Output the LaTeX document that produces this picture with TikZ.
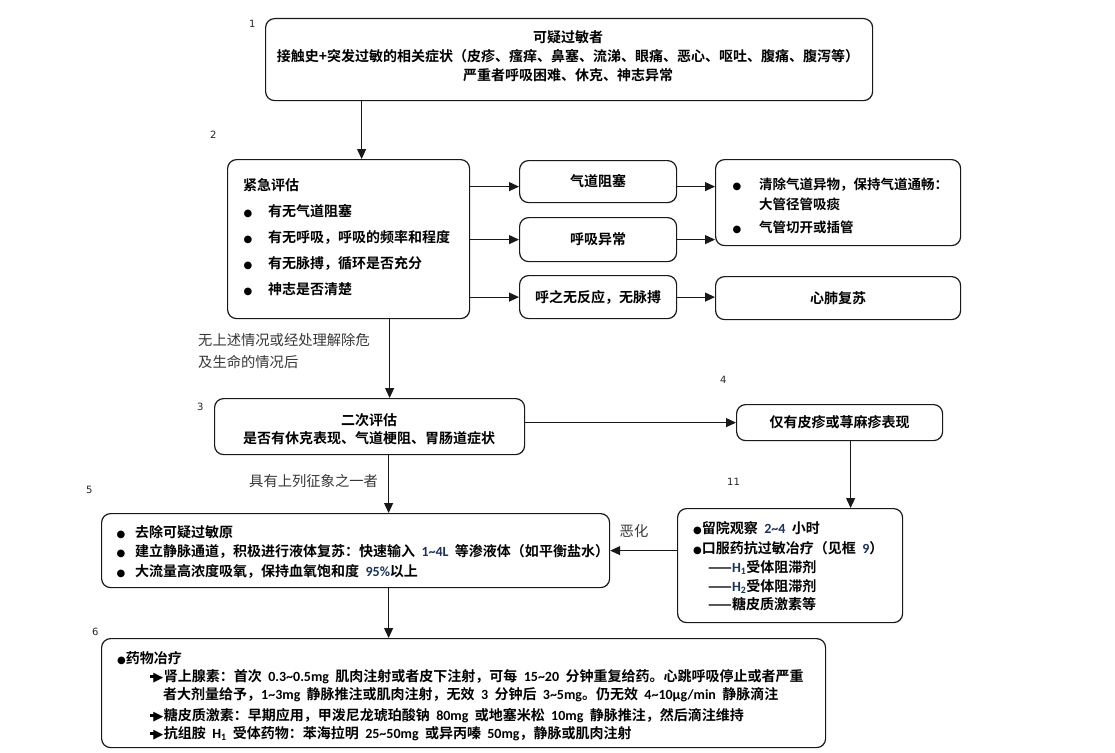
\documentclass[tikz,border=0pt]{standalone}
\usepackage{fontspec}
\setmainfont{Noto Sans CJK SC}[BoldFont={Noto Sans CJK SC Bold},WordSpace=2]
\newfontfamily\dejavu{DejaVu Sans}
\newfontfamily\carl{Carlito}
\usetikzlibrary{arrows.meta}
\definecolor{numblue}{RGB}{25,50,95}
\definecolor{txtgray}{RGB}{55,55,55}
\definecolor{linecol}{RGB}{25,25,25}
\newcommand{\bul}{{\dejavu\fontsize{10}{10}\selectfont ●}}
\newcommand{\rar}{\rule[3.1pt]{5pt}{2.8pt}\kern-1.8pt{\dejavu\fontsize{13}{13}\selectfont ▶}\kern0.5pt}
\newcommand{\nb}[1]{{\carl\color{numblue}#1}}
\newcommand{\nk}[1]{{\carl #1}}
\begin{document}
\begin{tikzpicture}[x=1pt,y=-1pt,
  box/.style={draw=linecol, line width=1.2pt, rounded corners=9pt, inner sep=0pt, anchor=north west, font=\bfseries\fontsize{14}{14}\selectfont},
  arr/.style={draw=linecol, line width=1.1pt, -{Triangle[length=10pt,width=9pt]}},
  bt/.style={inner sep=0pt, anchor=base west, font=\bfseries\fontsize{14}{14}\selectfont},
  bc/.style={bt, anchor=base},
  nt/.style={inner sep=0pt, anchor=base west, font=\fontsize{14.3}{14.3}\selectfont, text=txtgray},
  num/.style={inner sep=0pt, anchor=base west, font=\dejavu\fontsize{10}{10}\selectfont, text=black!85}
]
\useasboundingbox[fill=white] (0,0) rectangle (1115,752);

% ---- boxes ----
\node[box, minimum width=607pt, minimum height=82pt] (b1) at (265,18) {};
\node[box, minimum width=242pt, minimum height=159pt] (b2) at (227,159) {};
\node[box, minimum width=157pt, minimum height=42pt] (qd) at (519,160) {气道阻塞};
\node[box, minimum width=157pt, minimum height=44pt] (hx) at (519,217) {呼吸异常};
\node[box, minimum width=157pt, minimum height=43pt] (hz) at (519,275) {呼之无反应，无脉搏};
\node[box, minimum width=245pt, minimum height=86pt] (r1) at (715,159) {};
\node[box, minimum width=245pt, minimum height=43pt] (r2) at (715,276) {心肺复苏};
\node[box, minimum width=310pt, minimum height=56pt] (b3) at (214,398) {};
\node[box, minimum width=206pt, minimum height=36pt] (b4) at (736,404) {仅有皮疹或荨麻疹表现};
\node[box, minimum width=225pt, minimum height=114pt] (b11) at (677,508) {};
\node[box, minimum width=508pt, minimum height=74pt] (b5) at (101,513) {};
\node[box, minimum width=724pt, minimum height=109pt] (b6) at (101,638) {};

% ---- number labels ----
\node[num] (n1) at (249,28) {1};
\node[num] (n2) at (210,138) {2};
\node[num] (n3) at (197,410) {3};
\node[num] (n4) at (720,383) {4};
\node[num] (n5) at (86,493) {5};
\node[num] (n6) at (92,635) {6};
\node[num] (n11) at (727,485) {11};

% ---- box 1 text ----
\node[bc] (t1a) at (568,42) {可疑过敏者};
\node[bc] (t1b) at (568,61) {接触史+突发过敏的相关症状（皮疹、瘙痒、鼻塞、流涕、眼痛、恶心、呕吐、腹痛、腹泻等）};
\node[bc] (t1c) at (568,80) {严重者呼吸困难、休克、神志异常};

% ---- box 2 text ----
\node[bt] (t2a) at (243,190) {紧急评估};
\node[bc] (d2a) at (248,216) {\bul};
\node[bc] (d2b) at (248,242) {\bul};
\node[bc] (d2c) at (248,268) {\bul};
\node[bc] (d2d) at (248,294) {\bul};
\node[bt] (t2b) at (268,216) {有无气道阻塞};
\node[bt] (t2c) at (268,242) {有无呼吸，呼吸的频率和程度};
\node[bt] (t2d) at (268,268) {有无脉搏，循环是否充分};
\node[bt] (t2e) at (268,294) {神志是否清楚};

% ---- r1 text ----
\node[bc] (dr1) at (737,189) {\bul};
\node[bc] (dr2) at (737,232) {\bul};
\node[bt, font=\bfseries\fontsize{13.5}{13.5}\selectfont] (tr1) at (759,189) {清除气道异物，保持气道通畅：};
\node[bt, font=\bfseries\fontsize{13.5}{13.5}\selectfont] (tr2) at (759,209) {大管径管吸痰};
\node[bt, font=\bfseries\fontsize{13.5}{13.5}\selectfont] (tr3) at (759,232) {气管切开或插管};

% ---- free texts ----
\node[nt] (f1) at (198,345) {无上述情况或经处理解除危};
\node[nt] (f2) at (198,367) {及生命的情况后};
\node[nt] (f3) at (249,486) {具有上列征象之一者};
\node[nt, anchor=base] (f4) at (634,536) {恶化};

% ---- box 3 text ----
\node[bc] (t3a) at (369,425) {二次评估};
\node[bc] (t3b) at (369,443) {是否有休克表现、气道梗阻、胃肠道症状};

% ---- box 11 text ----
\node[bt] (t11a) at (693,533) {\bul 留院观察 \nb{2\textasciitilde4} 小时};
\node[bt] (t11b) at (693,553) {\bul 口服药抗过敏冶疗（见框 \nb{9}）};
\node[bt] (t11c) at (708,572) {——\nb{H\textsubscript{1}}受体阻滞剂};
\node[bt] (t11d) at (708,591) {——\nb{H\textsubscript{2}}受体阻滞剂};
\node[bt] (t11e) at (708,609) {——糖皮质激素等};

% ---- box 5 text ----
\node[bc] (d5a) at (121,537) {\bul};
\node[bc] (d5b) at (121,556) {\bul};
\node[bc] (d5c) at (121,576) {\bul};
\node[bt] (t5a) at (135,537) {去除可疑过敏原};
\node[bt] (t5b) at (135,556) {建立静脉通道，积极进行液体复苏：快速输入 \nb{1\textasciitilde4L} 等渗液体（如平衡盐水）};
\node[bt] (t5c) at (135,576) {大流量高浓度吸氧，保持血氧饱和度 \nb{95\%}以上};

% ---- box 6 text ----
\node[bt] (t6a) at (117,663) {\bul 药物冶疗};
\node[bt] (t6b) at (150,681) {\rar 肾上腺素：首次 \nk{0.3\textasciitilde0.5mg} 肌肉注射或者皮下注射，可每 \nk{15\textasciitilde20} 分钟重复给药。心跳呼吸停止或者严重};
\node[bt] (t6c) at (163,699) {者大剂量给予，\nk{1\textasciitilde3mg} 静脉推注或肌肉注射，无效 \nk{3} 分钟后 \nk{3\textasciitilde5mg}。仍无效 \nk{4\textasciitilde10µg/min} 静脉滴注};
\node[bt] (t6d) at (150,720) {\rar 糖皮质激素：早期应用，甲泼尼龙琥珀酸钠 \nk{80mg} 或地塞米松 \nk{10mg} 静脉推注，然后滴注维持};
\node[bt] (t6e) at (150,738) {\rar 抗组胺 \nk{H\textsubscript{1}} 受体药物：苯海拉明 \nk{25\textasciitilde50mg} 或异丙嗪 \nk{50mg}，静脉或肌肉注射};

% ---- connectors ----
\coordinate (c12) at ([xshift=13pt]b2.north);
\draw[arr] (c12 |- b1.south) -- (c12);
\coordinate (aq) at ([yshift=-5pt]qd.west);
\draw[arr] (b2.east |- aq) -- (aq);
\draw[arr] (b2.east |- hx.west) -- (hx.west);
\draw[arr] (b2.east |- hz.west) -- (hz.west);
\draw[arr] (aq -| qd.east) -- (aq -| r1.west);
\draw[arr] (hx.east) -- (hx.east -| r1.west);
\draw[arr] (hz.east) -- (hz.east -| r2.west);
\coordinate (c23) at ([xshift=41pt]b2.south);
\draw[arr] (c23) -- (c23 |- b3.north);
\draw[arr] (b4.west -| b3.east) -- (b4.west);
\coordinate (c411) at ([xshift=11pt]b4.south);
\draw[arr] (c411) -- (c411 |- b11.north);
\coordinate (c35) at ([xshift=19pt]b3.south);
\draw[arr] (c35) -- (c35 |- b5.north);
\draw[arr] (b5.east -| b11.west) -- (b5.east);
\coordinate (c56) at ([xshift=33pt]b5.south);
\draw[arr] (c56) -- (c56 |- b6.north);
\end{tikzpicture}
\end{document}
